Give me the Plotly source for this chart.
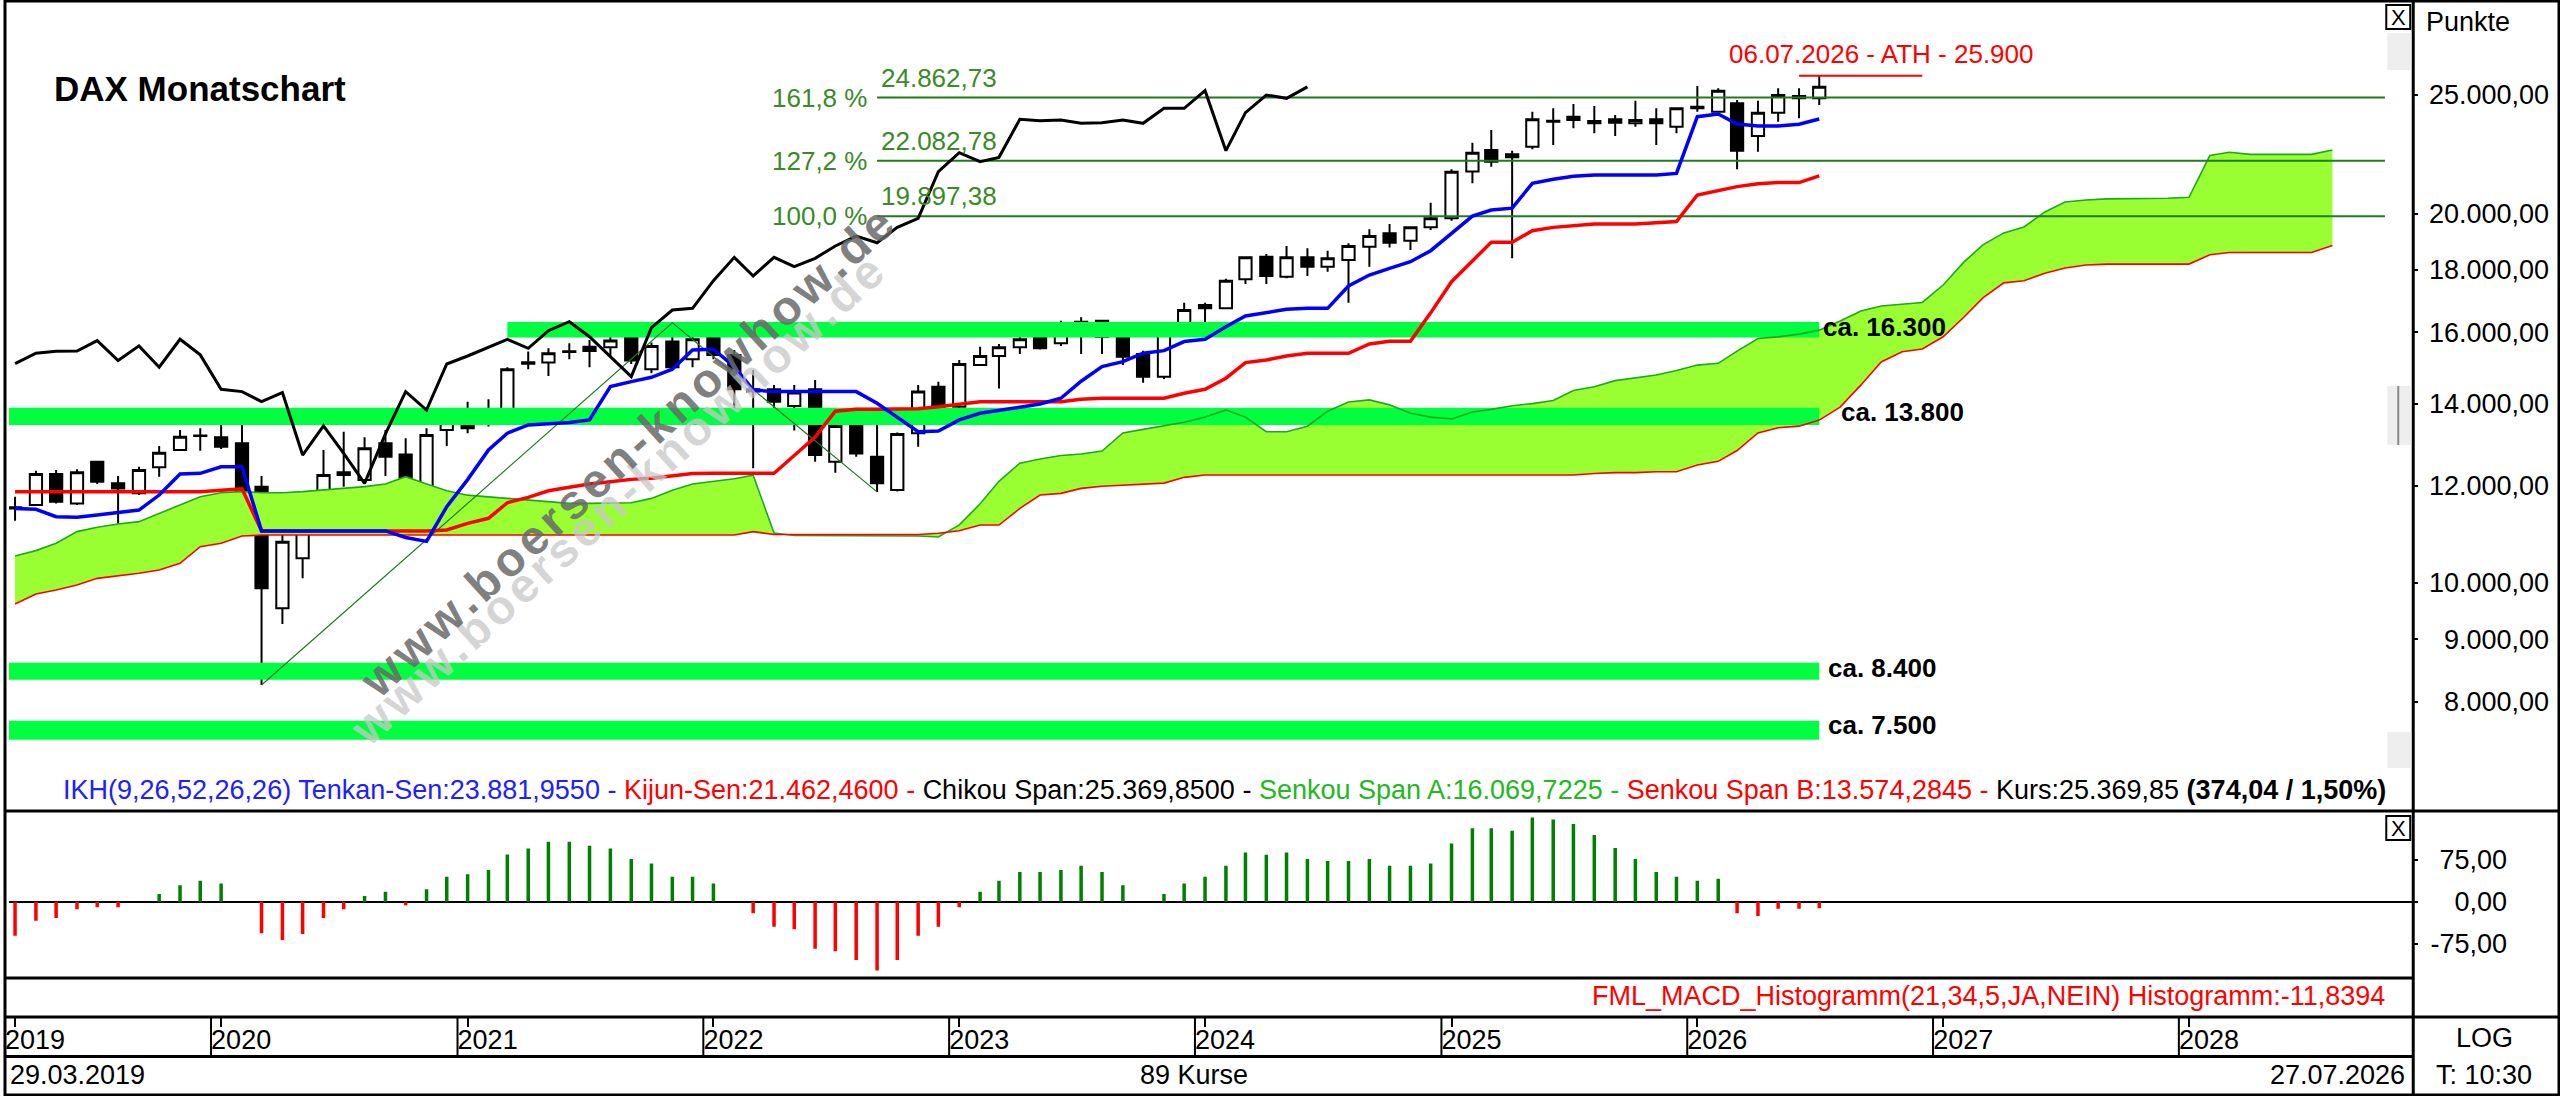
import numpy as np
import pandas as pd
import plotly.graph_objects as go

W, H = 2560, 1096
FONT = "Liberation Sans, Arial, sans-serif"

# ---------------- data ----------------
months = pd.date_range("2019-03-01", periods=114, freq="MS")   # 89 bars + 25 months of cloud
n_bars = 89

opens = [11500, 11573, 12267, 11609, 12554, 12054, 11830, 12422, 12832, 13174,
         13141, 12994, 11979, 9535, 10473, 11830, 12306, 12130, 12994, 12728,
         11537, 13323, 13833, 13477, 13818, 15130, 15121, 15427, 15580, 15563,
         15897, 14933, 15729, 15216, 15897, 15341, 14382, 14382, 13939, 14382,
         12555, 13427, 12673, 11904, 13243, 14453, 13920, 15053, 15309, 15560,
         15874, 15677, 16074, 16358, 15894, 15366, 14727, 16225, 16846, 16741,
         17678, 18446, 17767, 18423, 18103, 18331, 18794, 19270, 19006, 19488,
         19820, 21640, 22533, 22351, 22675, 23765, 23988, 23795, 23869, 23690,
         23869, 23543, 24443, 24215, 24596, 23133, 24170, 24937, 24828]
highs = [11756, 12344, 12359, 12375, 12570, 12221, 12437, 12929, 13323, 13365,
         13593, 13704, 12221, 11147, 11771, 12832, 13282, 13141, 13323, 13117,
         13365, 13833, 14051, 14114, 14989, 15436, 15534, 15680, 15778, 15957,
         15950, 15700, 16290, 15877, 16250, 15485, 14914, 14500, 14500, 14636,
         13760, 13792, 13452, 13260, 14500, 14589, 15195, 15579, 15657, 15874,
         16225, 16358, 16461, 16380, 15920, 15463, 16175, 16920, 16920, 17700,
         18423, 18539, 18820, 18737, 18655, 18914, 19415, 19610, 19488, 20411,
         21730, 22845, 23395, 22505, 24215, 24367, 24566, 24474, 24064, 24720,
         24367, 24367, 25409, 25298, 24751, 24720, 25298, 25298, 25900]
lows = [11238, 11551, 11609, 11573, 12039, 11182, 11793, 12206, 12816, 12816,
        12857, 11668, 8256, 9259, 10086, 11501, 11979, 12054, 12221, 11393,
        11465, 12929, 13240, 13410, 13732, 14933, 14747, 15216, 14989, 15293,
        15083, 14821, 14914, 14989, 15216, 13732, 12400, 13452, 13310, 12555,
        12298, 12673, 11862, 11870, 12913, 13680, 13800, 15025, 14400, 15366,
        15500, 15599, 15366, 15366, 15053, 14562, 14663, 16225, 16256, 16741,
        17524, 17524, 17711, 17789, 17934, 16920, 18103, 18770, 18676, 19391,
        19733, 21166, 21840, 18388, 22561, 22746, 23469, 23249, 23133, 23543,
        22746, 23249, 24215, 24170, 21730, 22463, 23765, 23914, 24520]
closes = [11526, 12267, 11646, 12306, 12092, 11941, 12359, 12768, 13158, 13190,
          12913, 11830, 9899, 10804, 11501, 12244, 12244, 12873, 12673, 11465,
          13199, 13644, 13365, 13689, 14933, 15090, 15389, 15445, 15450, 15759,
          15178, 15602, 14989, 15798, 15341, 14382, 14319, 14052, 14292, 12713,
          13427, 12752, 12054, 13227, 14319, 13833, 15081, 15309, 15560, 15795,
          15531, 16054, 16327, 15874, 15290, 14727, 16144, 16689, 16741, 17634,
          18423, 17789, 18423, 18103, 18389, 18820, 19174, 18935, 19488, 19820,
          21635, 22421, 22045, 22225, 23869, 23800, 23839, 23690, 23720, 23839,
          23690, 24367, 24367, 25188, 22505, 24170, 24984, 24828, 25370]

tenkan = [11501, 11481, 11324, 11312, 11360, 11410, 11465, 11793, 12267, 12283,
          12437, 12437, 11025, 11025, 11025, 11025, 11025, 11025, 11025, 10891,
          10810, 11537, 12140, 12832, 13243, 13452, 13477, 13511, 13578, 14453,
          14589, 14708, 14933, 15485, 15505, 15008, 14363, 14319, 14319, 14319,
          14319, 14319, 14009, 13645, 13282, 13300, 13578, 13749, 13833, 13905,
          13992, 14142, 14600, 15008, 15149, 15388, 15463, 15729, 15795, 16175,
          16502, 16606, 16710, 16741, 16741, 17458, 17822, 18046, 18272, 18653,
          19270, 19906, 20131, 20204, 21166, 21329, 21450, 21499, 21499, 21499,
          21499, 21566, 23988, 24108, 23660, 23572, 23572, 23650, 23882]
kijun = [11868, 11868, 11868, 11868, 11868, 11868, 11868, 11868, 11868, 11868,
         11900, 11930, 11025, 11025, 11025, 11025, 11025, 11025, 11025, 11025,
         11025, 11045, 11182, 11289, 11624, 11741, 11889, 11967, 12039, 12092,
         12145, 12170, 12230, 12280, 12283, 12283, 12283, 12283, 12700, 13150,
         13800, 13851, 13851, 13851, 13869, 13920, 13989, 14051, 14051, 14051,
         14051, 14051, 14113, 14143, 14143, 14143, 14143, 14273, 14382, 14683,
         15121, 15195, 15309, 15388, 15388, 15388, 15657, 15740, 15740, 16600,
         17600, 18300, 18950, 18950, 19367, 19488, 19554, 19610, 19610, 19610,
         19659, 19700, 20710, 20880, 21037, 21153, 21196, 21196, 21462]
senkou_a = [10519, 10625, 10772, 11011, 11101, 11170, 11219, 11393, 11573, 11756,
            11845, 11868, 11845, 11845, 11868, 11906, 11938, 11980, 12039, 12206,
            12039, 11890, 11790, 11756, 11719, 11682, 11646, 11610, 11610, 11610,
            11624, 11719, 11900, 12039, 12092, 12160, 12240, 10980, 10930, 10930,
            10930, 10930, 10930, 10930, 10920, 10900, 11150, 11600, 12100, 12520,
            12618, 12700, 12737, 12809, 13249, 13340, 13427, 13520, 13650, 13836,
            13650, 13280, 13280, 13420, 13800, 14045, 14098, 13967, 13750, 13650,
            13604, 13784, 13850, 13943, 14000, 14080, 14350, 14450, 14617, 14700,
            14774, 14900, 15050, 15100, 15450, 15818, 15867, 15950, 16070, 16349,
            16659, 16815, 16870, 16926, 17490, 18264, 18857, 19287, 19505, 20062,
            20440, 20517, 20560, 20560, 20560, 20580, 20620, 22300, 22437, 22348,
            22348, 22348, 22348, 22533]
senkou_b = [9613, 9795, 9868, 9961, 10086, 10131, 10182, 10246, 10375, 10704,
            10772, 10919, 10940, 10940, 10940, 10940, 10940, 10940, 10940, 10940,
            10940, 10940, 10940, 10940, 10940, 10940, 10940, 10940, 10940, 10940,
            10940, 10940, 10940, 10940, 10940, 10940, 11010, 10950, 10950, 10950,
            10950, 10950, 10950, 10950, 10950, 10976, 11030, 11148, 11148, 11500,
            11793, 11830, 11942, 11990, 12016, 12040, 12060, 12191, 12244, 12244,
            12244, 12244, 12244, 12244, 12244, 12244, 12244, 12244, 12244, 12244,
            12244, 12244, 12244, 12244, 12244, 12244, 12244, 12280, 12300, 12300,
            12320, 12320, 12476, 12563, 12820, 13250, 13380, 13420, 13574, 13910,
            14500, 15140, 15430, 15512, 15870, 16470, 17070, 17560, 17632, 17880,
            18060, 18158, 18190, 18190, 18190, 18190, 18190, 18510, 18588, 18588,
            18588, 18588, 18588, 18834]
chikou_shift = 25

macd_hist = [-60.7, -33.9, -29.2, -13.7, -10, -10, 0, 13.7, 29.2, 37.5,
             32.7, 0, -56.5, -68.4, -57.7, -29.2, -13.7, 10.1, 17.9, -6.5,
             22, 44.6, 48.8, 56.5, 84.5, 95.2, 107, 107, 100, 95.2,
             76.2, 68.4, 44.6, 44.6, 32.7, 0, -20.8, -44.6, -49.4, -83.9,
             -88.7, -104, -123, -104, -60.7, -44.6, -10, 17.9, 37.5, 53,
             53, 56.5, 64.3, 53, 29.2, 0, 13.7, 32.7, 44.6, 64.3,
             88, 83.9, 88, 76.2, 72.6, 72.6, 76.2, 64.3, 64.3, 68.4,
             104, 131, 131, 126.7, 150.5, 147, 138.6, 119, 95.8, 76.2,
             53, 44.6, 37.5, 41, -20.8, -25.6, -12.5, -12.5, -11.84]

fib_anchor_idx = [12, 32, 42]
fib_anchor_vals = [8255.65, 16290.19, 11862.84]
fib_levels = [19897.38, 22082.78, 24862.73]
fib_pcts = ["100,0 %", "127,2 %", "161,8 %"]
fib_texts = ["19.897,38", "22.082,78", "24.862,73"]

zone_lo = [15850, 13450, 8340, 7450]
zone_hi = [16320, 13890, 8610, 7720]
zone_names = ["ca. 16.300", "ca. 13.800", "ca. 8.400", "ca. 7.500"]
zone_start = [24, None, None, None]

ath_value = 25900
ath_text = "06.07.2026 - ATH - 25.900"

price_ticks = [8000, 9000, 10000, 12000, 14000, 16000, 18000, 20000, 25000]
price_labels = ["8.000,00", "9.000,00", "10.000,00", "12.000,00", "14.000,00",
                "16.000,00", "18.000,00", "20.000,00", "25.000,00"]
macd_ticks = [-75, 0, 75]
macd_labels = ["-75,00", "0,00", "75,00"]
year_ticks = ["2019-03-01", "2020-01-01", "2021-01-01", "2022-01-01", "2023-01-01",
              "2024-01-01", "2025-01-01", "2026-01-01", "2027-01-01", "2028-01-01"]
year_labels = ["2019", "2020", "2021", "2022", "2023", "2024", "2025", "2026", "2027", "2028"]

x_range = ["2019-02-20", "2028-11-29"]
fib_end = "2028-10-18"


def px(x):
    return x / W


def py(y):
    return 1 - y / H


bars = months[:n_bars]
fig = go.Figure()

# ichimoku cloud fill
fig.add_trace(go.Scatter(x=months, y=senkou_b, mode="lines", line=dict(width=0), hoverinfo="skip"))
fig.add_trace(go.Scatter(x=months, y=senkou_a, mode="lines", line=dict(width=0), fill="tonexty",
                         fillcolor="#99FF33", hoverinfo="skip"))

# support zones
for lo, hi, s in zip(zone_lo, zone_hi, zone_start):
    x0 = x_range[0] if s is None else months[s]
    x1 = months[n_bars - 1]
    fig.add_trace(go.Scatter(x=[x0, x1, x1, x0, x0], y=[lo, lo, hi, hi, lo], mode="lines",
                             line=dict(width=0), fill="toself", fillcolor="#00FF40", hoverinfo="skip"))

# senkou lines
fig.add_trace(go.Scatter(x=months, y=senkou_a, mode="lines", line=dict(color="#1FA81F", width=1.6)))
fig.add_trace(go.Scatter(x=months, y=senkou_b, mode="lines", line=dict(color="#FF0000", width=1.6)))

# fibonacci projection
fig.add_trace(go.Scatter(x=[months[i] for i in fib_anchor_idx], y=fib_anchor_vals, mode="lines",
                         line=dict(color="#1E7B1E", width=1.2)))
for lv in fib_levels:
    fig.add_trace(go.Scatter(x=[months[fib_anchor_idx[-1]], fib_end], y=[lv, lv], mode="lines",
                             line=dict(color="#1E7B1E", width=2)))

# ATH marker
fig.add_trace(go.Scatter(x=[months[87], months[93]], y=[ath_value, ath_value], mode="lines",
                         line=dict(color="#FF0000", width=2)))

fig.add_trace(go.Candlestick(
    x=bars, open=opens, high=highs, low=lows, close=closes, whiskerwidth=0,
    increasing=dict(line=dict(color="black", width=2), fillcolor="white"),
    decreasing=dict(line=dict(color="black", width=2), fillcolor="black"),
    hoverinfo="skip"))

fig.add_trace(go.Scatter(x=months[:n_bars - chikou_shift], y=closes[chikou_shift:], mode="lines",
                         line=dict(color="black", width=3)))
fig.add_trace(go.Scatter(x=bars, y=kijun, mode="lines", line=dict(color="#FF0000", width=3.5)))
fig.add_trace(go.Scatter(x=bars, y=tenkan, mode="lines", line=dict(color="#0000FF", width=3.5)))

# dummy traces so the label-only overlay axes are drawn
fig.add_trace(go.Scatter(x=[bars[0]], y=[closes[0]], yaxis="y3", mode="markers",
                         marker=dict(opacity=0), hoverinfo="skip"))

# MACD histogram
fig.add_trace(go.Bar(x=bars, y=macd_hist, xaxis="x2", yaxis="y2", width=4.5e8,
                     marker=dict(color=["#008000" if v >= 0 else "#FF0000" for v in macd_hist],
                                 line=dict(width=0))))
fig.add_trace(go.Scatter(x=[bars[0]], y=[0], xaxis="x2", yaxis="y4", mode="markers",
                         marker=dict(opacity=0), hoverinfo="skip"))

log_range = [3.81412, 4.47263]
macd_range = [-136.3, 158.4]
tick_common = dict(showgrid=False, zeroline=False, showline=False)

fig.update_layout(
    width=W, height=H, margin=dict(l=0, r=0, t=0, b=0),
    paper_bgcolor="white", plot_bgcolor="white", showlegend=False, hovermode=False,
    boxgap=0.35, boxgroupgap=0, font=dict(family=FONT, size=27, color="black"),
    xaxis=dict(domain=[px(5), px(2413)], range=x_range, type="date", anchor="y",
               showticklabels=False, ticks="", rangeslider=dict(visible=False), **tick_common),
    yaxis=dict(domain=[py(811), py(3)], type="log", range=log_range, side="right", anchor="x",
               tickvals=price_ticks, showticklabels=False, ticks="outside", ticklen=4,
               tickwidth=2, tickcolor="black", **tick_common),
    yaxis3=dict(overlaying="y", anchor="free", position=px(2549), side="left", type="log",
                range=log_range, tickvals=price_ticks, ticktext=price_labels, ticks="",
                tickfont=dict(size=27), **tick_common),
    xaxis2=dict(matches="x", domain=[px(5), px(2413)], type="date", anchor="free",
                position=py(1017), side="bottom", tickvals=year_ticks, ticktext=year_labels,
                ticks="outside", ticklen=9, tickwidth=2, tickcolor="black",
                ticklabelshift=20, ticklabelstandoff=-10, tickfont=dict(size=27), **tick_common),
    yaxis2=dict(domain=[py(978), py(813)], range=macd_range, anchor="x2", side="right",
                tickvals=macd_ticks, showticklabels=False, ticks="outside", ticklen=4,
                tickwidth=2, tickcolor="black", showgrid=False, showline=False,
                zeroline=True, zerolinecolor="black", zerolinewidth=2),
    yaxis4=dict(overlaying="y2", anchor="free", position=px(2507), side="left",
                range=macd_range, tickvals=macd_ticks, ticktext=macd_labels, ticks="",
                tickfont=dict(size=27), **tick_common),
)

# frame and panel separators
shapes = [
    dict(type="rect", xref="paper", yref="paper", x0=px(1), x1=px(2559), y0=py(1095), y1=py(1),
         line=dict(color="black", width=3)),
    dict(type="line", xref="paper", yref="paper", x0=0, x1=1, y0=py(811), y1=py(811),
         line=dict(color="black", width=3)),
    dict(type="line", xref="paper", yref="paper", x0=0, x1=px(2413), y0=py(978), y1=py(978),
         line=dict(color="black", width=3)),
    dict(type="line", xref="paper", yref="paper", x0=0, x1=1, y0=py(1017), y1=py(1017),
         line=dict(color="black", width=3)),
    dict(type="line", xref="paper", yref="paper", x0=0, x1=px(2413), y0=py(1056.5), y1=py(1056.5),
         line=dict(color="black", width=3)),
    dict(type="line", xref="paper", yref="paper", x0=px(2413), x1=px(2413), y0=0, y1=1,
         line=dict(color="black", width=3)),
    # scroll markers
    dict(type="rect", xref="paper", yref="paper", x0=px(2387), x1=px(2411), y0=py(70), y1=py(33),
         fillcolor="#EEEEEE", line=dict(width=0)),
    dict(type="rect", xref="paper", yref="paper", x0=px(2387), x1=px(2411), y0=py(445), y1=py(386),
         fillcolor="#EEEEEE", line=dict(width=0)),
    dict(type="line", xref="paper", yref="paper", x0=px(2398), x1=px(2398), y0=py(445), y1=py(386),
         line=dict(color="#888888", width=2)),
    dict(type="rect", xref="paper", yref="paper", x0=px(2387), x1=px(2411), y0=py(768), y1=py(732),
         fillcolor="#EEEEEE", line=dict(width=0)),
    # close boxes
    dict(type="rect", xref="paper", yref="paper", x0=px(2386), x1=px(2410), y0=py(29), y1=py(5),
         fillcolor="white", line=dict(color="black", width=2)),
    dict(type="rect", xref="paper", yref="paper", x0=px(2386), x1=px(2410), y0=py(840), y1=py(816),
         fillcolor="white", line=dict(color="black", width=2)),
]
for t in year_ticks[1:]:
    xs = pd.Timestamp(t) - pd.Timedelta(days=15)
    shapes.append(dict(type="line", xref="x", yref="paper", x0=xs, x1=xs, y0=py(1056.5), y1=py(1017),
                       line=dict(color="black", width=2)))
fig.update_layout(shapes=shapes)


def note(text, x, y, size=27, color="black", xanchor="left", yanchor="middle", xref="paper",
         yref="paper", **kw):
    fig.add_annotation(text=text, x=x, y=y, xref=xref, yref=yref, xanchor=xanchor, yanchor=yanchor,
                       showarrow=False, font=dict(family=FONT, size=size, color=color), **kw)


note("<b>DAX Monatschart</b>", px(48), py(88), size=35)

for lv, pct, txt in zip(fib_levels, fib_pcts, fib_texts):
    note(pct, months[fib_anchor_idx[-1]], np.log10(lv), size=26, color="#3A8A28", xanchor="right",
         xref="x", yref="y", xshift=-8)
    note(txt, months[fib_anchor_idx[-1]], np.log10(lv), size=26, color="#3A8A28", xanchor="left",
         yanchor="bottom", xref="x", yref="y", xshift=2, yshift=3)

note(ath_text, px(1726), py(54), size=26, color="#FF0000")

zone_xshift = [2, 20, 7, 7]
zone_yshift = [3, 4, 3, 5]
for lo, hi, name, xs, ys in zip(zone_lo, zone_hi, zone_names, zone_xshift, zone_yshift):
    note("<b>" + name + "</b>", months[n_bars - 1], np.log10((lo * hi) ** 0.5), size=26,
         xref="x", yref="y", xshift=xs, yshift=ys)

legend_html = ("<span style='color:#2020FF'>IKH(9,26,52,26,26) Tenkan-Sen:23.881,9550 - </span>"
               "<span style='color:#FF0000'>Kijun-Sen:21.462,4600 - </span>"
               "<span style='color:#000000'>Chikou Span:25.369,8500 - </span>"
               "<span style='color:#22B822'>Senkou Span A:16.069,7225 - </span>"
               "<span style='color:#FF0000'>Senkou Span B:13.574,2845 - </span>"
               "Kurs:25.369,85 <b>(374,04 / 1,50%)</b>")
note(legend_html, px(57), py(790), size=27)

note("FML_MACD_Histogramm(21,34,5,JA,NEIN) Histogramm:-11,8394", px(2387), py(996),
     color="#FF0000", xanchor="right")

note("Punkte", px(2424), py(22))
note("X", px(2398), py(17), size=22, xanchor="center")
note("X", px(2398), py(828), size=22, xanchor="center")

note("29.03.2019", px(4), py(1075))
note("89 Kurse", px(1192), py(1075), xanchor="center")
note("27.07.2026", px(2407), py(1075), xanchor="right")
note("LOG", px(2484), py(1038), xanchor="center")
note("T: 10:30", px(2484), py(1075), xanchor="center")

wm = "\u200a".join("www.boersen-knowhow.de")
note("<b>" + wm + "</b>", px(613), py(500), size=48, color="rgba(200,200,200,0.75)",
     xanchor="center", textangle=-42.3)
note("<b>" + wm + "</b>", px(623), py(452), size=48, color="rgba(105,105,105,0.85)",
     xanchor="center", textangle=-42.3)

fig.write_html("out.html", config={"displayModeBar": False},
               post_script="document.body.style.margin='0px';document.body.style.overflow='hidden';")
